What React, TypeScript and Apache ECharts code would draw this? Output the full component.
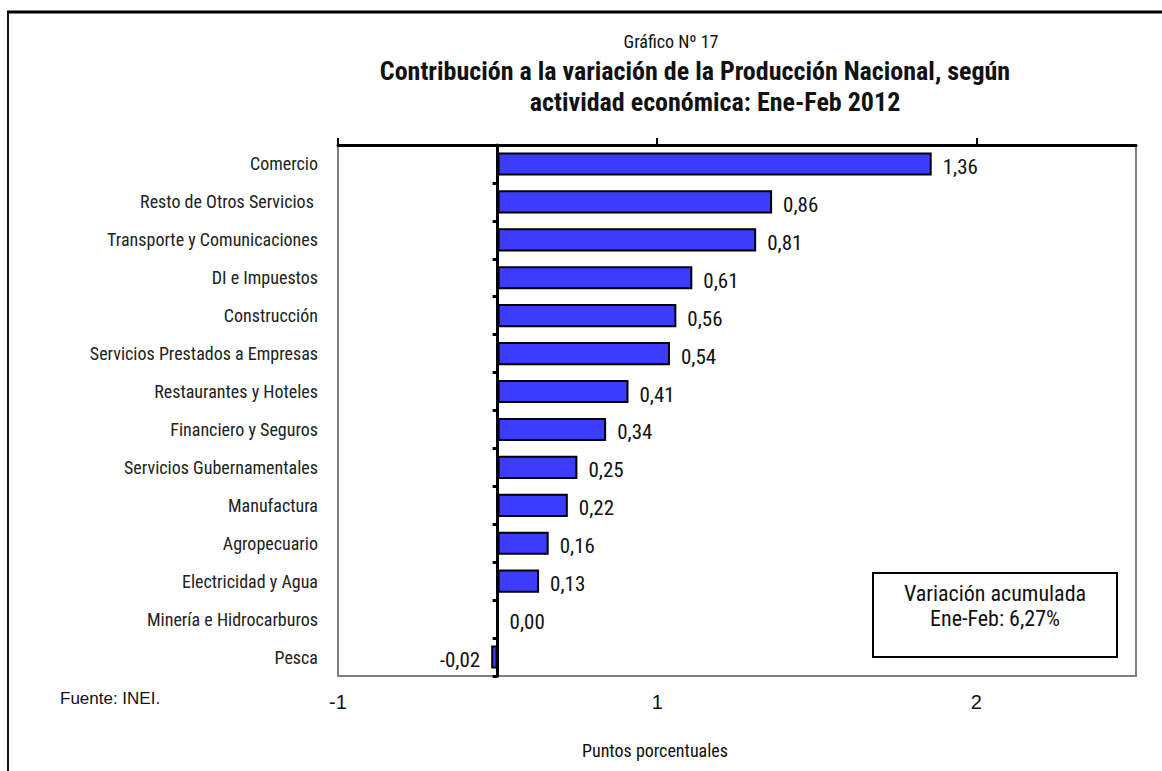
import React, { useEffect, useRef } from "react";
import * as echarts from "echarts";

const categories = [
  "Comercio",
  "Resto de Otros Servicios ",
  "Transporte y Comunicaciones",
  "DI e Impuestos",
  "Construcción",
  "Servicios Prestados a Empresas",
  "Restaurantes y Hoteles",
  "Financiero y Seguros",
  "Servicios Gubernamentales",
  "Manufactura",
  "Agropecuario",
  "Electricidad y Agua",
  "Minería e Hidrocarburos",
  "Pesca",
];
const values = [1.36, 0.86, 0.81, 0.61, 0.56, 0.54, 0.41, 0.34, 0.25, 0.22, 0.16, 0.13, 0.0, -0.02];
const tickValues = [-0.5, 0.5, 1.5];
const boxLines = ["Variación acumulada", "Ene-Feb: 6,27%"];

const NARROW = "'Liberation Sans Narrow', 'Arial Narrow', 'Roboto Condensed', Roboto, sans-serif";

const fmtTick = (v: number) => String(v < 0 ? -Math.round(-v) : Math.round(v));
const fmtVal = (v: number) => v.toFixed(2).replace(".", ",");

export default function App() {
  const ref = useRef<HTMLDivElement>(null);
  useEffect(() => {
    if (!ref.current) return;
    const chart = echarts.init(ref.current, null, { renderer: "svg" });
    chart.setOption({
      animation: false,
      backgroundColor: "#ffffff",
      grid: {
        left: 338,
        top: 145,
        width: 798,
        height: 531,
        show: true,
        borderColor: "#808080",
        borderWidth: 2,
        backgroundColor: "#ffffff",
      },
      xAxis: [
        {
          type: "value",
          position: "top",
          min: -0.5,
          max: 2,
          interval: 1,
          axisLine: { show: true, onZero: false, lineStyle: { color: "#000", width: 3 } },
          axisTick: { show: true, length: 7, customValues: tickValues, lineStyle: { color: "#000", width: 2 } },
          axisLabel: { show: false },
          splitLine: { show: false },
        },
        {
          type: "value",
          position: "bottom",
          min: -0.5,
          max: 2,
          interval: 1,
          axisLine: { show: false, onZero: false },
          axisTick: { show: false },
          axisLabel: {
            show: true,
            customValues: tickValues,
            formatter: (v: number) => fmtTick(v),
            margin: 16,
            fontSize: 20,
            fontFamily: "'Liberation Sans', Arial, sans-serif",
            color: "#111",
          },
          splitLine: { show: false },
        },
      ],
      yAxis: [
        {
          type: "category",
          inverse: true,
          data: categories,
          axisLine: { show: false, onZero: false },
          axisTick: { show: false },
          axisLabel: { margin: 20, fontSize: 18, fontFamily: NARROW, color: "#222" },
        },
        {
          type: "category",
          inverse: true,
          data: categories,
          position: "left",
          axisLine: { show: true, onZero: true, onZeroAxisIndex: 0, lineStyle: { color: "#000", width: 3 } },
          axisTick: { show: true, length: 5, lineStyle: { color: "#000", width: 3 } },
          axisLabel: { show: false },
        },
      ],
      series: [
        {
          type: "bar",
          xAxisIndex: 0,
          yAxisIndex: 0,
          barWidth: "61%",
          data: values.map((v) => ({
            value: v,
            label: { position: v < 0 ? "left" : "right" },
          })),
          itemStyle: { color: "#3c3cff", borderColor: "#000", borderWidth: 2 },
          label: {
            show: true,
            distance: 11,
            offset: [0, 3],
            fontSize: 21,
            fontFamily: NARROW,
            color: "#111",
            formatter: (p: any) => fmtVal(p.value),
          },
        },
      ],
      graphic: [
        { type: "line", shape: { x1: 7, y1: 12, x2: 1162, y2: 12 }, style: { stroke: "#000", lineWidth: 3 } },
        { type: "line", shape: { x1: 8, y1: 12, x2: 8, y2: 771 }, style: { stroke: "#111", lineWidth: 2 } },
        {
          type: "text",
          x: 671,
          y: 41,
          style: { text: "Gráfico Nº 17", fontSize: 18, fontFamily: NARROW, fill: "#111", align: "center", verticalAlign: "middle" },
        },
        {
          type: "text",
          x: 695,
          y: 71,
          style: {
            text: "Contribución a la variación de la Producción Nacional, según",
            fontSize: 26,
            fontWeight: "bold",
            fontFamily: NARROW,
            fill: "#111",
            align: "center",
            verticalAlign: "middle",
          },
        },
        {
          type: "text",
          x: 715,
          y: 102,
          style: {
            text: "actividad económica: Ene-Feb 2012",
            fontSize: 26,
            fontWeight: "bold",
            fontFamily: NARROW,
            fill: "#111",
            align: "center",
            verticalAlign: "middle",
          },
        },
        {
          type: "text",
          x: 60,
          y: 698,
          style: { text: "Fuente: INEI.", fontSize: 17, fontFamily: "'Liberation Sans', Arial, sans-serif", fill: "#111", verticalAlign: "middle" },
        },
        {
          type: "text",
          x: 655,
          y: 750,
          style: { text: "Puntos porcentuales", fontSize: 18, fontFamily: NARROW, fill: "#111", align: "center", verticalAlign: "middle" },
        },
        {
          type: "rect",
          shape: { x: 873, y: 573, width: 244, height: 84 },
          style: { fill: "#fff", stroke: "#000", lineWidth: 2 },
        },
        {
          type: "text",
          x: 995,
          y: 593,
          style: { text: boxLines[0], fontSize: 22, fontFamily: NARROW, fill: "#111", align: "center", verticalAlign: "middle" },
        },
        {
          type: "text",
          x: 995,
          y: 618,
          style: { text: boxLines[1], fontSize: 22, fontFamily: NARROW, fill: "#111", align: "center", verticalAlign: "middle" },
        },
      ],
    });
    return () => chart.dispose();
  }, []);
  return <div ref={ref} style={{ position: "absolute", left: 0, top: 0, width: 1162, height: 771 }} />;
}
